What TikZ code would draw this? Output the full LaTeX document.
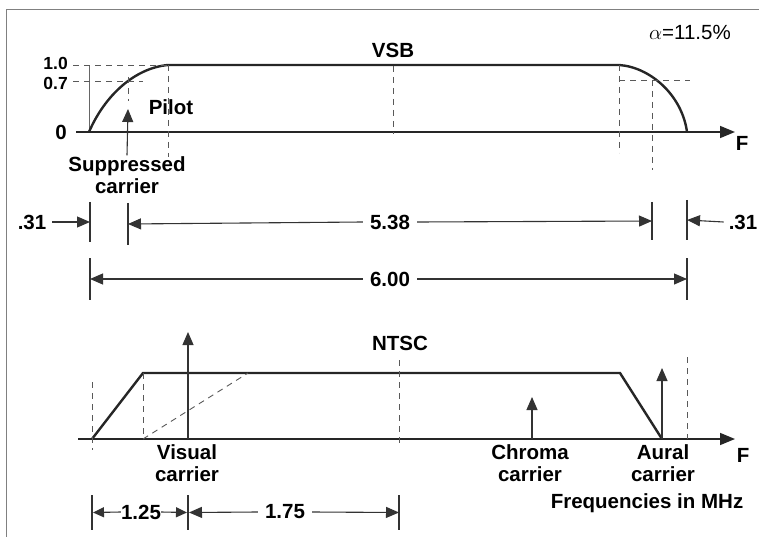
\documentclass[tikz,border=0pt]{standalone}
\usepackage{fontspec}
\setmainfont{Liberation Sans}
\usetikzlibrary{arrows.meta, positioning, calc}

\begin{document}
\begin{tikzpicture}[
  x=1pt, y=-1pt,
  lbl/.style={font=\fontsize{20.5}{22}\selectfont\bfseries, align=center, inner sep=1pt},
  dimlbl/.style={lbl, inner xsep=7pt},
  lvl/.style={font=\fontsize{17.5}{18}\selectfont\bfseries, inner sep=0pt},
  axis/.style={line width=1.5pt, draw=black!85, -{Triangle[length=15pt,width=12pt]}},
  curve/.style={line width=2.4pt, draw=black!85},
  guide/.style={dash pattern=on 6pt off 5pt, line width=0.9pt, draw=black!65},
  dimtick/.style={line width=1.1pt, draw=black!80},
  dimarrow/.style={line width=1.1pt, draw=black!80, -{Triangle[length=13pt,width=11pt]}},
  dimsmall/.style={line width=1.1pt, draw=black!80, -{Triangle[length=11pt,width=10pt]}},
  carrier/.style={line width=1.1pt, draw=black!80, -{Triangle[length=13pt,width=11pt]}}
]
  \useasboundingbox (0,0) rectangle (759,537);
  % page frame (scan edge)
  \draw[black!50, line width=0.8pt] (6,537) -- (6,9) -- (759,9);

  % ---------------- VSB spectrum ----------------
  \coordinate (va) at (76,132);
  \coordinate (vb) at (735,132);
  \coordinate (vs) at (89,132);
  \coordinate (vp) at (168,65);
  \coordinate (vq) at (619,65);
  \coordinate (ve) at (687,132);
  \draw[axis] (va) -- (vb);
  \node[lbl] (vf) at (742,143) {F};
  \draw[line width=0.8pt, black!60] (vs) -- (89,65);
  \draw[curve] (vs) .. controls (105,95) and (135,68) .. (vp)
    -- (vq) .. controls (650,67) and (682,95) .. (ve);

  % level guides
  \draw[guide] (73,65) -- (vp);
  \draw[guide] (73,81) -- (143,81);
  \draw[guide] (128,77) -- (128,101);
  \draw[guide] (vp) -- (168,157);
  \draw[guide] (393,66) -- (393,134);
  \draw[guide] (vq) -- (619,153);
  \draw[guide] (619,80) -- (690,80);
  \draw[guide] (652,80) -- (652,170);

  \node[lvl, anchor=east] (l10) at (68,63) {1.0};
  \node[lvl, anchor=east] (l07) at (68,83) {0.7};
  \node[lbl, anchor=east] (l00) at (68,132) {0};
  \node[lbl] (vsb) at (393,50) {VSB};
  \node[lbl, font=\fontsize{20.5}{22}\selectfont] (alpha) at (690,32) {$\alpha$=11.5\%};
  \node[lbl] (pilot) at (171,107) {Pilot};
  \node[lbl] (supp) at (127,175) {Suppressed\\carrier};
  \coordinate (ptip) at (128,109);
  \draw[carrier] (supp.north) -- (ptip);

  % ---------------- channel dimensions ----------------
  \foreach \x/\ya/\yb [count=\i] in {90/202/242, 128/203/245, 652/202/240, 687/200/240}
    \draw[dimtick] (\x,\ya) -- (\x,\yb) coordinate[pos=0.5] (ta\i);
  \foreach \x [count=\i] in {90, 687}
    \draw[dimtick] (\x,258) -- (\x,300) coordinate[pos=0.5] (tb\i);

  \node[lbl] (d31l) at (32,222) {.31};
  \node[lbl] (d31r) at (743,222) {.31};
  \node[dimlbl] (d538) at (390,222) {5.38};
  \node[dimlbl] (d600) at (390,279) {6.00};
  \draw[dimarrow] ($(d31l.east)+(5,0)$) -- (ta1);
  \draw[dimarrow] ($(d31r.west)+(-4,0)$) -- (ta4);
  \draw[dimarrow] (d538.west) -- (ta2);
  \draw[dimarrow] (d538.east) -- (ta3);
  \draw[dimarrow] (d600.west) -- (tb1);
  \draw[dimarrow] (d600.east) -- (tb2);

  % ---------------- NTSC spectrum ----------------
  \coordinate (na) at (78,439);
  \coordinate (nb) at (735,439);
  \coordinate (ns) at (92,439);
  \coordinate (np) at (143,373);
  \coordinate (nq) at (620,373);
  \coordinate (ne) at (662,439);
  \draw[axis] (na) -- (nb);
  \node[lbl] (nf) at (743,455) {F};
  \draw[curve] (ns) -- (np) -- (nq) -- (ne);

  \draw[guide] (92,382) -- (92,450);
  \draw[guide] (np) -- (143,439);
  \draw[guide] (143,439) -- (248,373);
  \draw[guide] (399,360) -- (399,445);
  \draw[guide] (687,357) -- (687,439);

  \coordinate (vc) at (188,439);
  \coordinate (cc) at (532,439);
  \coordinate (ac) at (662,439);
  \draw[carrier] (vc) -- (188,332);
  \draw[carrier] (cc) -- (532,397);
  \draw[carrier] (ac) -- (662,368);

  \node[lbl] (ntsc) at (400,343) {NTSC};
  \node[lbl] (visual) at (187,463) {Visual\\carrier};
  \node[lbl] (chroma) at (530,463) {Chroma\\carrier};
  \node[lbl] (aural) at (663,463) {Aural\\carrier};
  \node[lbl] (units) at (647,503) {Frequencies in MHz};

  % offsets of the carriers
  \foreach \x [count=\i] in {92, 188, 399}
    \draw[dimtick] (\x,495) -- (\x,530) coordinate[pos=0.5] (tc\i);
  \node[lbl, inner xsep=0pt] (d125) at (141,512) {1.25};
  \node[dimlbl] (d175) at (285,512) {1.75};
  \draw[dimsmall] (d125.west) -- ($(tc1)+(1,0)$);
  \draw[dimsmall] (d125.east) -- ($(tc2)+(-1,0)$);
  \draw[dimarrow] (d175.west) -- ($(tc2)+(1,0)$);
  \draw[dimarrow] (d175.east) -- (tc3);
\end{tikzpicture}
\end{document}
